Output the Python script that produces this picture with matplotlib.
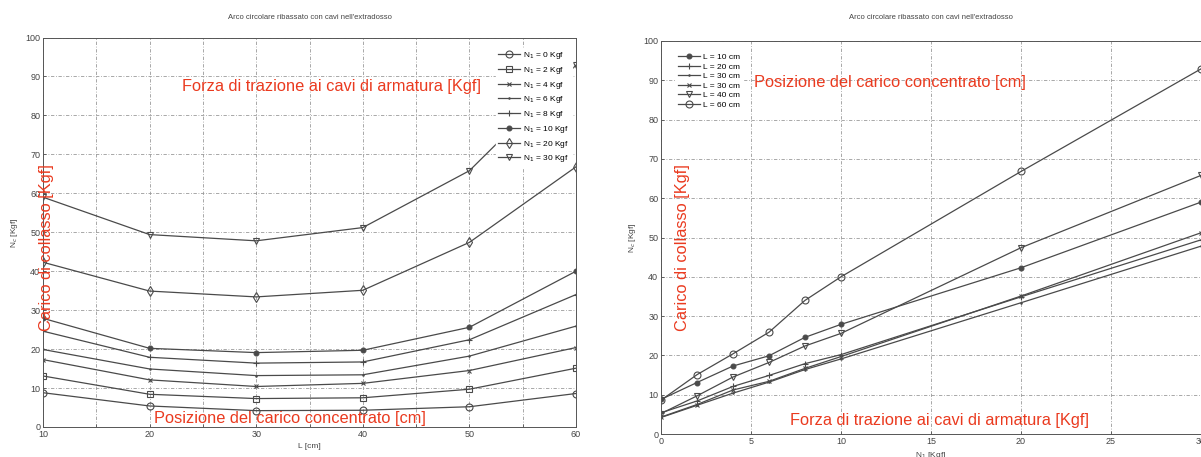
import numpy as np
import matplotlib.pyplot as plt
from matplotlib.ticker import MultipleLocator, FuncFormatter

plt.rcParams["font.family"] = ["Liberation Sans", "DejaVu Sans"]

# Load positions L [cm] and cable forces N1 [Kgf]
L_cm = [10, 20, 30, 40, 50, 60]
N1_kgf = [0, 2, 4, 6, 8, 10, 20, 30]

# Collapse load Nc [Kgf], one list per N1 (values along L)
nc_n0 = [8.8, 5.4, 4.2, 4.3, 5.2, 8.6]
nc_n2 = [13.1, 8.4, 7.3, 7.5, 9.7, 15.1]
nc_n4 = [17.3, 12.1, 10.4, 11.2, 14.5, 20.4]
nc_n6 = [19.9, 14.9, 13.2, 13.4, 18.2, 25.9]
nc_n8 = [24.6, 17.9, 16.4, 16.7, 22.4, 34.0]
nc_n10 = [27.9, 20.2, 19.1, 19.7, 25.6, 40.0]
nc_n20 = [42.3, 34.9, 33.4, 35.1, 47.4, 66.8]
nc_n30 = [59.0, 49.4, 47.8, 51.2, 65.8, 92.9]
nc_rows = [nc_n0, nc_n2, nc_n4, nc_n6, nc_n8, nc_n10, nc_n20, nc_n30]

left_labels = ["N$_1$ = %d Kgf" % n for n in N1_kgf]
right_labels = ["L = 10 cm", "L = 20 cm", "L = 30 cm", "L = 30 cm", "L = 40 cm", "L = 60 cm"]

title = "Arco circolare ribassato con cavi nell'extradosso"
red = "#ea3a1f"
gray = "#4a4a4a"
txt = "#444444"

left_markers = [("o", 5, "none"), ("s", 4, "none"), ("x", 3, gray), (".", 2, gray),
                ("+", 5, gray), (".", 7, gray), ("d", 5, "none"), ("v", 5, "none")]
right_markers = [(".", 7, gray), ("+", 5, gray), (".", 2, gray), ("x", 3, gray),
                 ("v", 5, "none"), ("o", 5, "none")]

fig = plt.figure(figsize=(12.01, 4.57), dpi=100)
W, H = 1201, 457
ax1 = fig.add_axes([43 / W, 1 - 427 / H, (576 - 43) / W, (427 - 37.5) / H])
ax2 = fig.add_axes([661 / W, 1 - 434 / H, (1201 - 661) / W, (434 - 41) / H])

for ax, tpad in ((ax1, 13), (ax2, 16)):
    ax.set_ylim(0, 100)
    ax.yaxis.set_major_locator(MultipleLocator(10))
    ax.grid(True, color="#9a9a9a", linestyle=(0, (4, 2, 1, 2)), linewidth=0.6)
    ax.tick_params(labelsize=6.5, colors=txt, length=2, width=0.5, direction="in", pad=2)
    for s in ax.spines.values():
        s.set_color("#555555")
        s.set_linewidth(0.7)
    ax.set_ylabel("N$_c$ [Kgf]", fontsize=6, color=txt, labelpad=4)
    ax.set_title(title, fontsize=5.5, color=txt, pad=tpad)

# Left: Nc vs L for each N1
for row, lab, (m, ms, fc) in zip(nc_rows, left_labels, left_markers):
    ax1.plot(L_cm, row, color=gray, linewidth=0.9, marker=m, markersize=ms,
             markerfacecolor=fc, markeredgecolor=gray, markeredgewidth=0.8, label=lab)
ax1.set_xlim(10, 60)
ax1.xaxis.set_major_locator(MultipleLocator(5))
ax1.xaxis.set_major_formatter(FuncFormatter(lambda v, p: "%d" % v if v % 10 == 0 else ""))
ax1.set_xlabel("L [cm]", fontsize=6, color=txt, labelpad=3)
ax1.legend(loc="upper right", bbox_to_anchor=(1.0, 0.985), fontsize=6, frameon=True,
           framealpha=1, edgecolor="white", fancybox=False, handlelength=2.6,
           labelspacing=0.45, borderpad=0.3, handletextpad=0.4)

# Right: Nc vs N1 for each L
cols = list(zip(*nc_rows))
for j, (lab, (m, ms, fc)) in enumerate(zip(right_labels, right_markers)):
    ax2.plot(N1_kgf, cols[j], color=gray, linewidth=0.9, marker=m, markersize=ms,
             markerfacecolor=fc, markeredgecolor=gray, markeredgewidth=0.8, label=lab)
ax2.set_xlim(0, 30)
ax2.xaxis.set_major_locator(MultipleLocator(5))
ax2.set_xlabel("N$_1$ [Kgf]", fontsize=6, color=txt, labelpad=3)
ax2.legend(loc="upper left", bbox_to_anchor=(0.02, 0.985), fontsize=6, frameon=True,
           framealpha=1, edgecolor="white", fancybox=False, handlelength=2.6,
           labelspacing=0.2, borderpad=0.3, handletextpad=0.4)

# Red overlay annotations
fs = 11.8
fig.text(331 / W, 1 - 87 / H, "Forza di trazione ai cavi di armatura [Kgf]", color=red,
         fontsize=fs, ha="center", va="center")
fig.text(290 / W, 1 - 418 / H, "Posizione del carico concentrato [cm]", color=red,
         fontsize=fs, ha="center", va="center")
fig.text(47 / W, 1 - 248 / H, "Carico di collasso [Kgf]", color=red, fontsize=fs,
         ha="center", va="center", rotation=90)
fig.text(890 / W, 1 - 82 / H, "Posizione del carico concentrato [cm]", color=red,
         fontsize=fs, ha="center", va="center")
fig.text(940 / W, 1 - 420 / H, "Forza di trazione ai cavi di armatura [Kgf]", color=red,
         fontsize=fs, ha="center", va="center")
fig.text(682 / W, 1 - 248 / H, "Carico di collasso [Kgf]", color=red, fontsize=fs,
         ha="center", va="center", rotation=90)

fig.savefig("out.png", dpi=100)
